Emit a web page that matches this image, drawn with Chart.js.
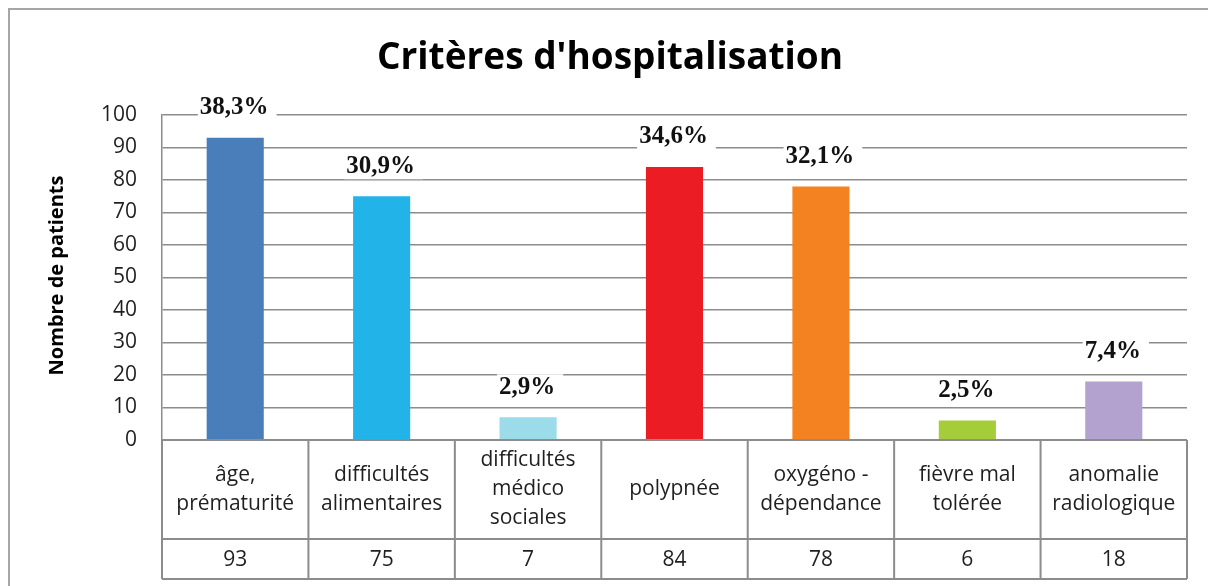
<!DOCTYPE html>
<html lang="fr">
<head>
<meta charset="utf-8">
<title>Critères d'hospitalisation</title>
<script src="https://cdn.jsdelivr.net/npm/chart.js@4.4.1/dist/chart.umd.min.js"></script>
<style>
  html, body { margin: 0; padding: 0; background: #fff; }
  canvas { display: block; }
</style>
</head>
<body>
<canvas id="chart" width="1208" height="586"></canvas>
<script>
(function () {
  "use strict";

  // ── Data ───────────────────────────────────
  const CATEGORIES = [
    ["âge,", "prématurité"],
    ["difficultés", "alimentaires"],
    ["difficultés", "médico", "sociales"],
    ["polypnée"],
    ["oxygéno -", "dépendance"],
    ["fièvre mal", "tolérée"],
    ["anomalie", "radiologique"]
  ];
  const PATIENTS = [93, 75, 7, 84, 78, 6, 18];
  const PERCENTS = ["38,3%", "30,9%", "2,9%", "34,6%", "32,1%", "2,5%", "7,4%"];
  const BAR_COLORS = ["#4a7ebb", "#22b4e9", "#9bdbea", "#ec1c24", "#f58220", "#a5cd39", "#b3a2d0"];
  const Y_TICKS = [0, 10, 20, 30, 40, 50, 60, 70, 80, 90, 100];

  const TITLE = "Critères d'hospitalisation";
  const Y_TITLE = "Nombre de patients";

  // ── Styles ─────────────────────────────────
  const LINE = "#8c8c8c";
  const TEXT = "#1f1f1f";
  const SANS = "'Open Sans', sans-serif";
  const SERIF = "'Liberation Serif', 'Times New Roman', serif";

  // ── Extras drawn around the plot ───────────
  const decorations = {
    id: "decorations",
    afterDatasetsDraw(chart) {
      const ctx = chart.ctx;
      const meta = chart.getDatasetMeta(0);
      ctx.save();
      ctx.font = "bold 25px " + SERIF;
      ctx.textAlign = "center";
      ctx.textBaseline = "middle";
      meta.data.forEach((bar, i) => {
        const y = bar.y - 30;
        const w = ctx.measureText(PERCENTS[i]).width;
        ctx.fillStyle = "#fff";
        ctx.fillRect(bar.x - w / 2 - 3, y - 13, w + 10, 26);
        ctx.fillStyle = "#111";
        ctx.fillText(PERCENTS[i], bar.x - 1, y);
      });
      ctx.restore();
    },
    afterDraw(chart) {
      const ctx = chart.ctx;
      const area = chart.chartArea;
      const n = CATEGORIES.length;
      const cw = (area.right - area.left) / n;
      const rowTop = area.bottom;
      const rowMid = rowTop + 99;
      const rowEnd = rowMid + 40;

      ctx.save();

      // outer frame
      ctx.strokeStyle = "#a6a6a6";
      ctx.lineWidth = 2;
      ctx.beginPath();
      ctx.moveTo(9, 600);
      ctx.lineTo(9, 9);
      ctx.lineTo(1210, 9);
      ctx.stroke();

      // data table
      ctx.strokeStyle = LINE;
      ctx.lineWidth = 2;
      ctx.beginPath();
      [rowTop, rowMid, rowEnd].forEach((y) => {
        ctx.moveTo(area.left, y);
        ctx.lineTo(area.right, y);
      });
      for (let i = 0; i <= n; i++) {
        const x = area.left + i * cw;
        ctx.moveTo(x, rowTop);
        ctx.lineTo(x, rowEnd);
      }
      ctx.stroke();

      ctx.fillStyle = TEXT;
      ctx.font = "21px " + SANS;
      ctx.textAlign = "center";
      ctx.textBaseline = "middle";
      const lh = 29;
      CATEGORIES.forEach((lines, i) => {
        const cx = area.left + (i + 0.5) * cw;
        const y0 = (rowTop + rowMid) / 2 - (lines.length - 1) * lh / 2;
        lines.forEach((t, j) => ctx.fillText(t, cx, y0 + j * lh));
        ctx.fillText(String(PATIENTS[i]), cx, (rowMid + rowEnd) / 2 + 1);
      });

      // title
      ctx.fillStyle = "#000";
      ctx.font = "bold 37px " + SANS;
      ctx.fillText(TITLE, 610, 58);

      // y axis title
      ctx.translate(57, (area.top + area.bottom) / 2 - 2);
      ctx.rotate(-Math.PI / 2);
      ctx.font = "bold 20px " + SANS;
      ctx.fillText(Y_TITLE, 0, 0);

      ctx.restore();
    }
  };

  new Chart(document.getElementById("chart"), {
    type: "bar",
    data: {
      labels: CATEGORIES.map((c) => c.join(" ")),
      datasets: [{
        data: PATIENTS,
        backgroundColor: BAR_COLORS,
        borderWidth: 0,
        categoryPercentage: 1,
        barPercentage: 0.39
      }]
    },
    options: {
      responsive: false,
      animation: false,
      devicePixelRatio: 1,
      layout: { padding: { top: 115, right: 21, bottom: 146, left: 0 } },
      plugins: {
        legend: { display: false },
        tooltip: { enabled: false },
        title: { display: false }
      },
      scales: {
        x: { display: false },
        y: {
          min: 0,
          max: 100,
          afterFit: (scale) => { scale.width = 162; },
          afterBuildTicks: (scale) => { scale.ticks = Y_TICKS.map((v) => ({ value: v })); },
          ticks: {
            padding: 25,
            color: TEXT,
            font: { family: SANS, size: 21 }
          },
          grid: { color: LINE, lineWidth: 1.5, drawTicks: false },
          border: { display: true, color: LINE, width: 1.5 }
        }
      }
    },
    plugins: [decorations]
  });
})();
</script>
</body>
</html>
